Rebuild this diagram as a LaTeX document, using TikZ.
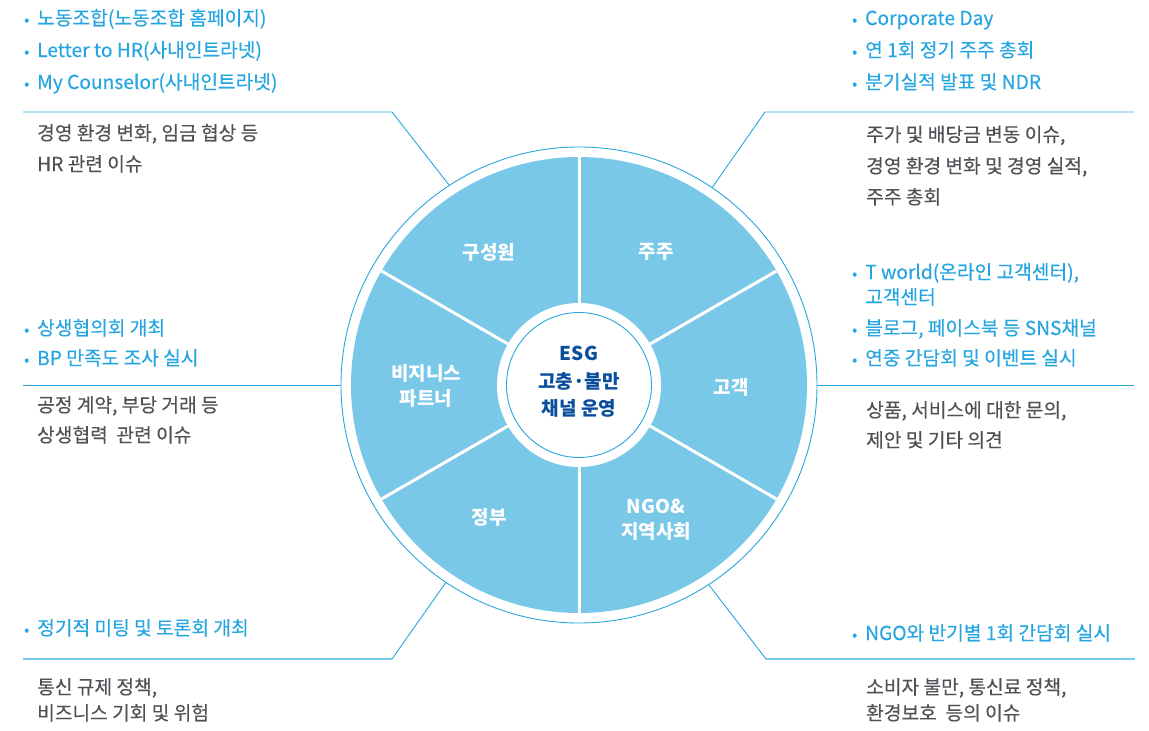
\documentclass[tikz,border=0pt]{standalone}
\usepackage{fontspec}
\setmainfont{Noto Sans CJK KR}
\newfontfamily\medfont[FakeBold=0.25]{Noto Sans CJK KR}
\definecolor{disc}{RGB}{122,200,232}
\definecolor{ringblue}{RGB}{41,166,222}
\definecolor{bultext}{RGB}{38,165,224}
\definecolor{graytext}{RGB}{78,82,86}
\definecolor{darkblue}{RGB}{10,78,158}
\definecolor{lightline}{RGB}{122,200,232}
\begin{document}
\begin{tikzpicture}[x=1pt,y=-1pt,
  bul/.style={anchor=base west,inner sep=0pt,text=bultext,font=\medfont\fontsize{19.2}{22}\selectfont},
  gry/.style={anchor=base west,inner sep=0pt,text=graytext,font=\medfont\fontsize{19.2}{22}\selectfont},
  seg/.style={text=white,font=\bfseries\fontsize{19}{25}\selectfont,align=center,inner sep=0pt},
  ctr/.style={text=darkblue,font=\bfseries\fontsize{19}{27.5}\selectfont,align=center,inner sep=0pt},
  conn/.style={draw=ringblue,line width=0.9pt},
  connlt/.style={draw=lightline,line width=1.8pt},
  divider/.style={draw=white,line width=3pt}]
\useasboundingbox (0,0) rectangle (1149,731);
\newcommand{\bt}{\makebox[13pt][l]{\fontsize{15}{15}\selectfont •}}
% wheel
\fill[disc] (579,385) circle[radius=228pt];
\foreach \a in {90,30,-30,-90,-150,150}
  \draw[divider] (579,385) -- ++(\a:228pt);
\fill[white] (579,385) circle[radius=82pt];
\draw[ringblue,line width=0.9pt] (579,385) circle[radius=72.5pt];
\node[circle,draw=ringblue,line width=0.9pt,minimum size=476pt,inner sep=0pt,outer sep=0pt] (ring) at (579,385) {};
% segment labels
\node[seg] (s1) at (489,252) {구성원};
\node[seg] (s2) at (656,252) {주주};
\node[seg] (s3) at (731,387) {고객};
\node[seg] (s4) at (426,386) {비지니스\\파트너};
\node[seg] (s5) at (489,517) {정부};
\node[seg] (s6) at (656,520) {NGO\&\\지역사회};
\node[ctr] (c) at (579,382) {ESG\\고충·불만\\채널 운영};
% connectors
\coordinate (tlk) at (392,112); \coordinate (tle) at (23,112);
\draw[conn] (ring.123.4) -- (tlk) -- (tle);
\coordinate (trk) at (765,112); \coordinate (tre) at (1134,112);
\draw[conn] (ring.56.8) -- (trk) -- (tre);
\coordinate (mle) at (23,385);
\draw[conn] (ring.180) -- (mle);
\coordinate (mre) at (1134,385);
\draw[conn] (ring.0) -- (mre);
\coordinate (blk) at (392,659); \coordinate (ble) at (23,659);
\draw[conn] (ring.236.6) -- (blk);
\draw[connlt] (blk) -- (ble);
\coordinate (brk) at (766,659); \coordinate (bre) at (1135,659);
\draw[conn] (ring.303.2) -- (brk);
\draw[connlt] (brk) -- (bre);
% top-left texts
\node[bul] (tl1) at (24,25) {\bt 노동조합(노동조합 홈페이지)};
\node[bul] (tl2) at (24,57) {\bt Letter to HR(사내인트라넷)};
\node[bul] (tl3) at (24,89) {\bt My Counselor(사내인트라넷)};
\node[gry] (tl4) at (37,140) {경영 환경 변화, 임금 협상 등};
\node[gry] (tl5) at (37,171) {HR 관련 이슈};
% top-right texts
\node[bul] (tr1) at (852,25) {\bt Corporate Day};
\node[bul] (tr2) at (852,57) {\bt 연 1회 정기 주주 총회};
\node[bul] (tr3) at (852,89) {\bt 분기실적 발표 및 NDR};
\node[gry] (tr4) at (866,141.5) {주가 및 배당금 변동 이슈,};
\node[gry] (tr5) at (866,173) {경영 환경 변화 및 경영 실적,};
\node[gry] (tr6) at (866,204) {주주 총회};
% middle-left texts
\node[bul] (ml1) at (24,335) {\bt 상생협의회 개최};
\node[bul] (ml2) at (24,365) {\bt BP 만족도 조사 실시};
\node[gry] (ml3) at (37,412) {공정 계약, 부당 거래 등};
\node[gry] (ml4) at (37,442) {상생협력\ \ 관련 이슈};
% middle-right texts
\node[bul] (mr1) at (852,279) {\bt T world(온라인 고객센터),};
\node[bul] (mr2) at (865,304) {고객센터};
\node[bul] (mr3) at (852,335) {\bt 블로그, 페이스북 등 SNS채널};
\node[bul] (mr4) at (852,365) {\bt 연중 간담회 및 이벤트 실시};
\node[gry] (mr5) at (866,417) {상품, 서비스에 대한 문의,};
\node[gry] (mr6) at (866,447) {제안 및 기타 의견};
% bottom-left texts
\node[bul] (bl1) at (24,635) {\bt 정기적 미팅 및 토론회 개최};
\node[gry] (bl2) at (37,694) {통신 규제 정책,};
\node[gry] (bl3) at (37,720) {비즈니스 기회 및 위험};
% bottom-right texts
\node[bul] (br1) at (852,640) {\bt NGO와 반기별 1회 간담회 실시};
\node[gry] (br2) at (866,694) {소비자 불만, 통신료 정책,};
\node[gry] (br3) at (866,720) {환경보호\ \ 등의 이슈};
\end{tikzpicture}
\end{document}
